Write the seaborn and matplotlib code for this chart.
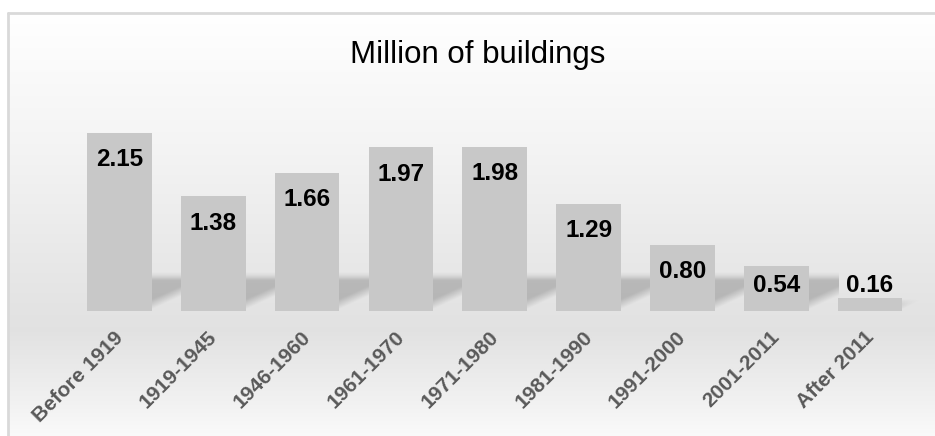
import numpy as np
import pandas as pd
import matplotlib
matplotlib.use("Agg")
import matplotlib.pyplot as plt
import matplotlib.transforms as mtransforms
from matplotlib.patches import Rectangle
import seaborn as sns

categories = ["Before 1919", "1919-1945", "1946-1960", "1961-1970", "1971-1980",
              "1981-1990", "1991-2000", "2001-2011", "After 2011"]
values = [2.15, 1.38, 1.66, 1.97, 1.98, 1.29, 0.80, 0.54, 0.16]
value_labels = ["2.15", "1.38", "1.66", "1.97", "1.98", "1.29", "0.80", "0.54", "0.16"]
title = "Million of buildings"

sns.set_theme(style="white")
plt.rcParams['font.family'] = ['Liberation Sans', 'DejaVu Sans']

W, H = 935, 436
fig = plt.figure(figsize=(W / 100, H / 100), dpi=100)

# background gradient
bg = fig.add_axes([0, 0, 1, 1], zorder=-10)
ys = np.arange(H)
stops_y = [0, 13, 150, 300, 330, 400, 436]
stops_c = [1.0, 1.0, 0.955, 0.895, 0.885, 0.945, 0.98]
col = np.interp(ys, stops_y, stops_c)
img = np.repeat(col[:, None], 4, axis=1)
bg.imshow(np.dstack([img, img, img]), aspect='auto', extent=[0, 1, 0, 1], origin='upper')
bg.set_xlim(0, 1)
bg.set_ylim(0, 1)
bg.axis('off')
bg.add_patch(Rectangle((0, 1 - 13 / H), 1, 13 / H, color='white', zorder=2))
bg.add_patch(Rectangle((0, 0), 8 / W, 1, color='white', zorder=2))
bg.plot([8 / W, 8 / W], [0, 1 - 13 / H], color='#d9d9d9', lw=2, zorder=3)
bg.plot([8 / W, 1], [1 - 13 / H, 1 - 13 / H], color='#d9d9d9', lw=2, zorder=3)

# main axes
x0px, x1px = 63.2, 926.3
base_px, top_px = 311.0, 311.0 - 2.5 * 83.0
ax = fig.add_axes([x0px / W, (H - base_px) / H, (x1px - x0px) / W, (base_px - top_px) / H])
ax.patch.set_alpha(0)

df = pd.DataFrame({"period": categories, "value": values})
sns.barplot(data=df, x="period", y="value", color="#c8c8c8", saturation=1,
            width=0.69, ax=ax, zorder=3, linewidth=0, edgecolor="none")

# soft shadows behind bars
nu, nv = 40, 80
u = np.linspace(0, 1, nu)[None, :]
v = np.linspace(0, 0.5, nv)[:, None]   # data units, bottom..top
for p, val in zip(ax.patches, values):
    right = p.get_x() + p.get_width()
    htop = min(val, 0.5)
    top_fade = np.clip((htop - 0.02 - v) / 0.1, 0, 1) * np.clip((0.49 - v) / 0.13, 0, 1)
    diag = np.clip((v - 0.02 - u * 0.16) / 0.12, 0, 1)
    alpha = 0.30 * top_fade * diag
    rgba = np.zeros((nv, nu, 4))
    rgba[..., :3] = 0.3
    rgba[..., 3] = alpha
    ax.imshow(rgba, extent=[right, right + 0.31, 0, 0.5], origin='lower',
              aspect='auto', zorder=1, interpolation='bilinear')
ax.set_xlim(-0.6, len(categories) - 0.4)
ax.set_ylim(0, 2.5)

# value labels
for i, (val, lab) in enumerate(zip(values, value_labels)):
    ax.text(i, max(val - 0.32, 0.31), lab, ha='center', va='center',
            fontsize=17.5, fontweight='bold', color='black', zorder=5)

ax.set_xlabel("")
ax.set_ylabel("")
ax.set_yticks([])
for s in ax.spines.values():
    s.set_visible(False)
ax.tick_params(axis='x', length=0, pad=12)
offset = mtransforms.ScaledTranslation(-6 / 100, 0, fig.dpi_scale_trans)
for t in ax.get_xticklabels():
    t.set_rotation(45)
    t.set_ha('right')
    t.set_va('top')
    t.set_rotation_mode('anchor')
    t.set_fontsize(15)
    t.set_fontweight('bold')
    t.set_color('#595959')
    t.set_transform(t.get_transform() + offset)

fig.text(478 / W, 1 - 63.3 / H, title, ha='center', va='baseline',
         fontsize=22.5, color='black')

fig.savefig("out.png", dpi=100)
